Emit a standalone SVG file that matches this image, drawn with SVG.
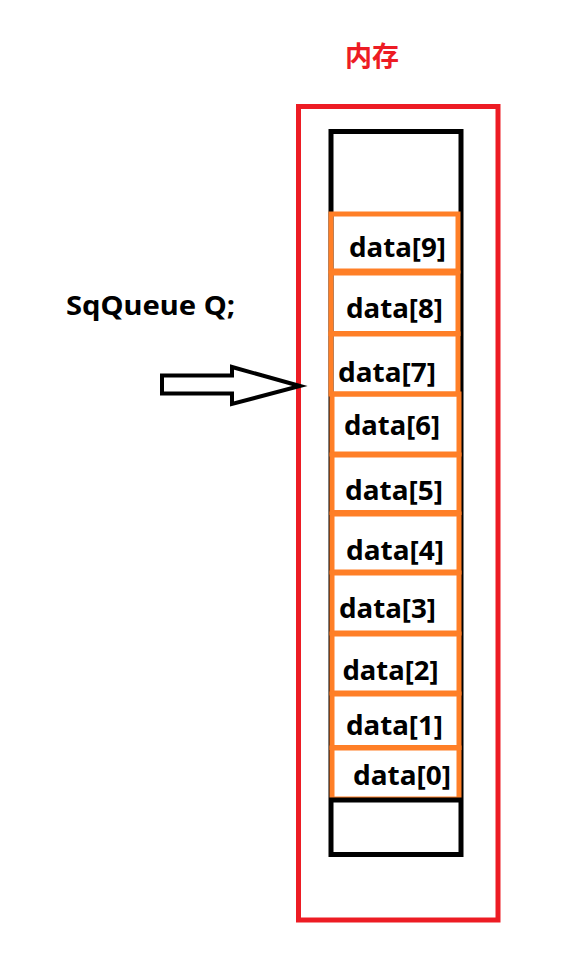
<svg xmlns="http://www.w3.org/2000/svg" width="583" height="975" viewBox="0 0 583 975">
<style>
.cell{fill:none;stroke:#FF7F27;stroke-width:5}
.lbl{font-family:"Noto Sans","Liberation Sans",sans-serif;font-weight:bold;font-size:27px;fill:#000}
</style>
<rect width="583" height="975" fill="#fff"/>
<g id="memory">
<text x="372" y="66" text-anchor="middle" style="font-family:'Noto Sans CJK SC',sans-serif;font-weight:bold;font-size:27px;fill:#ED1C24">内存</text>
<rect x="298.5" y="106.5" width="199.5" height="813.5" fill="none" stroke="#ED1C24" stroke-width="5"/>
</g>
<g id="queue">
<rect x="331" y="131.5" width="130" height="723" fill="none" stroke="#000" stroke-width="5"/>
</g>
<g id="cells">
<g id="d9"><rect class="cell" x="331" y="214" width="127" height="57"/><text class="lbl" x="349" y="257" textLength="97" lengthAdjust="spacingAndGlyphs">data[9]</text></g>
<g id="d8"><rect class="cell" x="331" y="273" width="127" height="60.5"/><text class="lbl" x="346" y="318" textLength="97" lengthAdjust="spacingAndGlyphs">data[8]</text></g>
<g id="d7"><rect class="cell" x="331" y="334" width="127" height="60"/><text class="lbl" x="338" y="381.5" textLength="98" lengthAdjust="spacingAndGlyphs">data[7]</text></g>
<g id="d6"><rect class="cell" x="332" y="394" width="127" height="60"/><text class="lbl" x="344" y="435" textLength="96" lengthAdjust="spacingAndGlyphs">data[6]</text></g>
<g id="d5"><rect class="cell" x="332" y="455" width="127" height="57.5"/><text class="lbl" x="345" y="500" textLength="98" lengthAdjust="spacingAndGlyphs">data[5]</text></g>
<g id="d4"><rect class="cell" x="332" y="514" width="127" height="58"/><text class="lbl" x="346" y="560" textLength="98" lengthAdjust="spacingAndGlyphs">data[4]</text></g>
<g id="d3"><rect class="cell" x="332" y="573" width="127" height="60"/><text class="lbl" x="339" y="618" textLength="97" lengthAdjust="spacingAndGlyphs">data[3]</text></g>
<g id="d2"><rect class="cell" x="332" y="634" width="127" height="59"/><text class="lbl" x="342.5" y="680" textLength="96" lengthAdjust="spacingAndGlyphs">data[2]</text></g>
<g id="d1"><rect class="cell" x="332" y="694" width="127" height="53.5"/><text class="lbl" x="346" y="735" textLength="97" lengthAdjust="spacingAndGlyphs">data[1]</text></g>
<g id="d0"><rect class="cell" x="332" y="748" width="127" height="51"/><text class="lbl" x="353" y="785" textLength="98" lengthAdjust="spacingAndGlyphs">data[0]</text></g>
</g>
<line x1="329" y1="800" x2="463" y2="800" stroke="#000" stroke-width="5"/>
<g id="var">
<text class="lbl" x="66" y="315" textLength="169" lengthAdjust="spacingAndGlyphs">SqQueue Q;</text>
</g>
<g id="connectors">
<polygon points="162,375.5 232,375.5 232,367 300,386 232,404 232,393.5 162,393.5" fill="none" stroke="#000" stroke-width="4" stroke-linejoin="miter"/>
</g>
</svg>
